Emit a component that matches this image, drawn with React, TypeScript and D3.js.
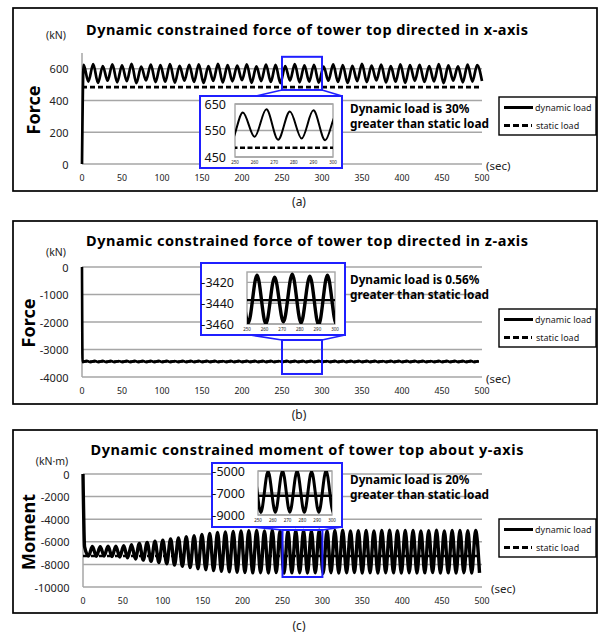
import React from 'react';
import * as d3 from 'd3';

const W = 603;
const H = 634;
const FONT = "'Noto Sans', 'Open Sans', sans-serif";
const GRID = '#a6a6a6';
const BLUE = '#1f1fff';

const timeTicks = [0, 50, 100, 150, 200, 250, 300, 350, 400, 450, 500];
const insetTimeTicks = [250, 260, 270, 280, 290, 300];
const zoomWindow = [250, 300];

// (a) force along x
const forceXTicks = [0, 200, 400, 600];
const forceXInsetTicks = [450, 550, 650];
const forceXStatic = 485;
const forceXFirst = 2;
const forceXHalf = 6;
const forceXPeaks = [
  625, 630, 618, 628, 622, 632, 615, 627, 624, 630,
  619, 626, 628, 617, 631, 623, 620, 629, 616, 627,
  625, 618, 630, 622, 626, 615, 628, 624, 619, 631,
  621, 627, 617, 629, 623, 626, 618, 630, 622, 616,
  627, 624,
];
const forceXTroughs = [
  520, 512, 525, 515, 522, 510, 527, 516, 519, 513,
  526, 518, 511, 524, 514, 521, 528, 512, 523, 517,
  510, 526, 515, 520, 513, 525, 518, 511, 522, 516,
  527, 514, 519, 512, 524, 517, 521, 510, 526, 515,
  520, 523,
];

// (b) force along z (starts on a trough)
const forceZTicks = [-4000, -3000, -2000, -1000, 0];
const forceZInsetTicks = [-3460, -3440, -3420];
const forceZStatic = -3437;
const forceZFirst = 0.7;
const forceZHalf = 5;
const forceZPeaks = [
  -3414, -3412, -3415, -3413, -3416, -3412, -3414, -3413, -3415, -3412,
  -3414, -3416, -3413, -3412, -3415, -3414, -3413, -3416, -3412, -3414,
  -3415, -3413, -3412, -3414, -3416, -3413, -3415, -3412, -3414, -3413,
  -3416, -3412, -3414, -3415, -3413, -3412, -3414, -3416, -3413, -3415,
  -3412, -3414, -3413, -3416, -3412, -3415, -3414, -3413, -3412, -3414,
];
const forceZTroughs = [
  -3459, -3460, -3458, -3461, -3459, -3458, -3460, -3459, -3461, -3458,
  -3459, -3460, -3458, -3459, -3461, -3460, -3458, -3459, -3460, -3461,
  -3458, -3459, -3460, -3458, -3461, -3459, -3460, -3458, -3459, -3461,
  -3460, -3458, -3459, -3460, -3461, -3458, -3459, -3460, -3458, -3459,
  -3461, -3460, -3458, -3459, -3460, -3458, -3461, -3459, -3460, -3458,
];

// (c) moment about y
const momentTicks = [-10000, -8000, -6000, -4000, -2000, 0];
const momentInsetTicks = [-9000, -7000, -5000];
const momentStatic = -7250;
const momentFirst = 2;
const momentHalf = 4.9;
const momentPeaks = [
  -6450, -6420, -6440, -6400, -6380, -6350, -6250, -6150, -6050, -5950,
  -5850, -5750, -5650, -5550, -5450, -5350, -5250, -5180, -5120, -5080,
  -5050, -5020, -5000, -5040, -4980, -5010, -5030, -4990, -5000, -5050,
  -4970, -5020, -5000, -4980, -5040, -5010, -4990, -5030, -5000, -4970,
  -5020, -5000, -4990, -5040, -5010, -4980, -5030, -5000, -4990, -5020,
  -5000,
];
const momentTroughs = [
  -7250, -7280, -7260, -7300, -7350, -7420, -7520, -7620, -7730, -7840,
  -7950, -8060, -8170, -8280, -8380, -8470, -8550, -8610, -8660, -8700,
  -8720, -8750, -8740, -8760, -8730, -8770, -8750, -8740, -8760, -8750,
  -8780, -8740, -8760, -8750, -8730, -8770, -8750, -8760, -8740, -8750,
  -8770, -8740, -8760, -8750, -8730, -8760, -8750, -8770, -8740, -8760,
  -8750,
];

// dynamic signal: starts from 0 at t=0, then alternating extrema
function buildSeries(first: number, half: number, odd: number[], even: number[]) {
  const pts: [number, number][] = [[0, 0]];
  const n = odd.length + even.length;
  for (let i = 0; i < n; i++) {
    const v = i % 2 === 0 ? odd[i / 2] : even[(i - 1) / 2];
    pts.push([first + i * half, v]);
  }
  return pts;
}

type Box = { left: number; right: number; top: number; bottom: number };

type PanelCfg = {
  id: string;
  frame: Box;
  plot: Box;
  yDomain: [number, number];
  yTicks: number[];
  title: string;
  titleY: number;
  titleW: number;
  unit: string;
  unitX: number;
  unitY: number;
  yLabel: string;
  yLabelX: number;
  yLabelY: number;
  secX: number;
  dynamic: [number, number][];
  staticVal: number;
  lineW: number;
  selY: [number, number];
  inset: {
    frame: Box;
    plot: Box;
    yDomain: [number, number];
    yTicks: number[];
    labelRight: number;
    lineW: number;
    staticSolid: boolean;
    connL: number;
    below: boolean;
  };
  note: string[];
  noteY: number;
  legendTop: number;
  caption: string;
  captionY: number;
};

const panels: PanelCfg[] = [
  {
    id: 'a',
    frame: { left: 13, right: 597, top: 8, bottom: 191 },
    plot: { left: 82, right: 482, top: 53, bottom: 164 },
    yDomain: [0, 700],
    yTicks: forceXTicks,
    title: 'Dynamic constrained force of tower top directed in x-axis',
    titleY: 35,
    titleW: 442,
    unit: '(kN)',
    unitX: 56,
    unitY: 39,
    yLabel: 'Force',
    yLabelX: 33,
    yLabelY: 110,
    secX: 486,
    dynamic: buildSeries(forceXFirst, forceXHalf, forceXPeaks, forceXTroughs),
    staticVal: forceXStatic,
    lineW: 2.7,
    selY: [467, 676],
    inset: {
      frame: { left: 200, right: 342, top: 96, bottom: 168 },
      plot: { left: 235, right: 333, top: 104, bottom: 157 },
      yDomain: [450, 650],
      yTicks: forceXInsetTicks,
      labelRight: 226,
      lineW: 2,
      staticSolid: false,
      connL: 256,
      below: true,
    },
    note: ['Dynamic load is 30%', 'greater than static load'],
    noteY: 113,
    legendTop: 97,
    caption: '(a)',
    captionY: 206,
  },
  {
    id: 'b',
    frame: { left: 13, right: 597, top: 221, bottom: 404 },
    plot: { left: 82, right: 482, top: 267, bottom: 377 },
    yDomain: [-4000, 0],
    yTicks: forceZTicks,
    title: 'Dynamic constrained force of tower top directed in z-axis',
    titleY: 246,
    titleW: 442,
    unit: '(kN)',
    unitX: 56,
    unitY: 256,
    yLabel: 'Force',
    yLabelX: 28,
    yLabelY: 323,
    secX: 486,
    dynamic: buildSeries(forceZFirst, forceZHalf, forceZTroughs, forceZPeaks),
    staticVal: forceZStatic,
    lineW: 2.6,
    selY: [-3890, -2655],
    inset: {
      frame: { left: 201, right: 345, top: 263, bottom: 335 },
      plot: { left: 247, right: 335, top: 272, bottom: 324 },
      yDomain: [-3460, -3410],
      yTicks: forceZInsetTicks,
      labelRight: 234,
      lineW: 3.4,
      staticSolid: true,
      connL: 250,
      below: false,
    },
    note: ['Dynamic load is 0.56%', 'greater than static load'],
    noteY: 284,
    legendTop: 309,
    caption: '(b)',
    captionY: 419,
  },
  {
    id: 'c',
    frame: { left: 13, right: 597, top: 430, bottom: 613 },
    plot: { left: 83, right: 482, top: 474, bottom: 587 },
    yDomain: [-10000, 0],
    yTicks: momentTicks,
    title: 'Dynamic constrained moment of tower top about y-axis',
    titleY: 455,
    titleW: 433,
    unit: '(kN·m)',
    unitX: 52,
    unitY: 465,
    yLabel: 'Moment',
    yLabelX: 28,
    yLabelY: 532,
    secX: 491,
    dynamic: buildSeries(momentFirst, momentHalf, momentPeaks, momentTroughs),
    staticVal: momentStatic,
    lineW: 3.4,
    selY: [-9115, -4956],
    inset: {
      frame: { left: 212, right: 342, top: 463, bottom: 527 },
      plot: { left: 258, right: 332, top: 471, bottom: 515 },
      yDomain: [-9000, -5000],
      yTicks: momentInsetTicks,
      labelRight: 245,
      lineW: 3,
      staticSolid: true,
      connL: 253,
      below: false,
    },
    note: ['Dynamic load is 20%', 'greater than static load'],
    noteY: 484,
    legendTop: 519,
    caption: '(c)',
    captionY: 630,
  },
];

function Panel({ cfg }: { cfg: PanelCfg }) {
  const { plot, inset } = cfg;
  const x = d3.scaleLinear().domain([0, 500]).range([plot.left, plot.right]);
  const y = d3.scaleLinear().domain(cfg.yDomain).range([plot.bottom, plot.top]);
  const line = d3
    .line<[number, number]>()
    .x((d) => x(d[0]))
    .y((d) => y(d[1]))
    .curve(d3.curveMonotoneX);

  const ix = d3.scaleLinear().domain(zoomWindow).range([inset.plot.left, inset.plot.right]);
  const iy = d3.scaleLinear().domain(inset.yDomain).range([inset.plot.bottom, inset.plot.top]);
  const iline = d3
    .line<[number, number]>()
    .x((d) => ix(d[0]))
    .y((d) => iy(d[1]))
    .curve(d3.curveMonotoneX);
  const insetData = cfg.dynamic.filter((d) => d[0] >= zoomWindow[0] - 12 && d[0] <= zoomWindow[1] + 12);

  const staticPts: [number, number][] = [
    [0, cfg.staticVal],
    [500, cfg.staticVal],
  ];

  const selX0 = x(zoomWindow[0]);
  const selX1 = x(zoomWindow[1]);
  const selTop = y(cfg.selY[1]);
  const selBot = y(cfg.selY[0]);

  const lg = { left: 499, right: 596, top: cfg.legendTop, bottom: cfg.legendTop + 38 };
  const clipMain = `clip-main-${cfg.id}`;
  const clipInset = `clip-inset-${cfg.id}`;

  return (
    <g>
      <defs>
        <clipPath id={clipMain}>
          <rect x={plot.left - 2} y={plot.top - 4} width={plot.right - plot.left + 4} height={plot.bottom - plot.top + 4} />
        </clipPath>
        <clipPath id={clipInset}>
          <rect
            x={inset.plot.left}
            y={inset.plot.top}
            width={inset.plot.right - inset.plot.left}
            height={inset.plot.bottom - inset.plot.top}
          />
        </clipPath>
      </defs>
      <rect
        x={cfg.frame.left}
        y={cfg.frame.top}
        width={cfg.frame.right - cfg.frame.left}
        height={cfg.frame.bottom - cfg.frame.top}
        fill="#fff"
        stroke="#000"
        strokeWidth={1.7}
      />
      <text
        x={307}
        y={cfg.titleY}
        textAnchor="middle"
        fontSize={14.5}
        fontWeight="bold"
        fontFamily={FONT}
        textLength={cfg.titleW}
        lengthAdjust="spacing"
      >
        {cfg.title}
      </text>
      <text x={cfg.unitX} y={cfg.unitY} textAnchor="middle" fontSize={10.5} fontFamily={FONT} fill="#222">
        {cfg.unit}
      </text>
      <text
        transform={`translate(${cfg.yLabelX},${cfg.yLabelY}) rotate(-90)`}
        textAnchor="middle"
        dominantBaseline="central"
        fontSize={18}
        fontWeight="bold"
        fontFamily={FONT}
      >
        {cfg.yLabel}
      </text>

      {/* grid + axes */}
      {cfg.yTicks.map((t) => (
        <line key={`g${t}`} x1={plot.left} x2={plot.right} y1={y(t)} y2={y(t)} stroke={GRID} strokeWidth={1.5} />
      ))}
      <line x1={plot.left} x2={plot.left} y1={plot.top} y2={plot.bottom} stroke={GRID} strokeWidth={1.5} />
      {cfg.yTicks.map((t) => (
        <text key={`yl${t}`} x={plot.left - 13.5} y={y(t)} textAnchor="end" dominantBaseline="central" fontSize={11} fontFamily={FONT} fill="#222">
          {t}
        </text>
      ))}
      {timeTicks.map((t) => (
        <text key={`xl${t}`} x={x(t)} y={plot.bottom + 17} textAnchor="middle" fontSize={8.8} fontFamily={FONT} fill="#222">
          {t}
        </text>
      ))}
      <text x={cfg.secX} y={plot.bottom + 1} dominantBaseline="central" fontSize={11.5} fontFamily={FONT} fill="#222">
        (sec)
      </text>

      {/* series */}
      <g clipPath={`url(#${clipMain})`}>
        <path d={line(cfg.dynamic) ?? ''} fill="none" stroke="#000" strokeWidth={cfg.lineW} strokeLinejoin="round" />
        <path d={line(staticPts) ?? ''} fill="none" stroke="#000" strokeWidth={2.6} strokeDasharray="5,3" />
      </g>

      {/* zoom marker */}
      <rect x={selX0} y={selTop} width={selX1 - selX0} height={selBot - selTop} fill="none" stroke={BLUE} strokeWidth={2} />
      {inset.below ? (
        <>
          <line x1={selX0} y1={selBot} x2={inset.connL} y2={inset.frame.top} stroke={BLUE} strokeWidth={1.6} />
          <line x1={selX1} y1={selBot} x2={inset.frame.right} y2={inset.frame.top} stroke={BLUE} strokeWidth={1.6} />
        </>
      ) : (
        <>
          <line x1={selX0} y1={selTop} x2={inset.connL} y2={inset.frame.bottom} stroke={BLUE} strokeWidth={1.6} />
          <line x1={selX1} y1={selTop} x2={inset.frame.right} y2={inset.frame.bottom} stroke={BLUE} strokeWidth={1.6} />
        </>
      )}

      {/* inset */}
      <rect
        x={inset.frame.left}
        y={inset.frame.top}
        width={inset.frame.right - inset.frame.left}
        height={inset.frame.bottom - inset.frame.top}
        fill="#fff"
        stroke={BLUE}
        strokeWidth={2}
      />
      <rect
        x={inset.plot.left}
        y={inset.plot.top}
        width={inset.plot.right - inset.plot.left}
        height={inset.plot.bottom - inset.plot.top}
        fill="#fff"
        stroke={GRID}
        strokeWidth={1.4}
      />
      {inset.yTicks.map((t) => (
        <line key={`ig${t}`} x1={inset.plot.left} x2={inset.plot.right} y1={iy(t)} y2={iy(t)} stroke={GRID} strokeWidth={1.4} />
      ))}
      {inset.yTicks.map((t) => (
        <text key={`iyl${t}`} x={inset.labelRight} y={iy(t)} textAnchor="end" dominantBaseline="central" fontSize={12.5} fontFamily={FONT} fill="#111">
          {t}
        </text>
      ))}
      {insetTimeTicks.map((t) => (
        <text key={`ixl${t}`} x={ix(t)} y={inset.plot.bottom + 7} textAnchor="middle" fontSize={4.5} fontFamily={FONT} fill="#222">
          {t}
        </text>
      ))}
      <g clipPath={`url(#${clipInset})`}>
        <path d={iline(insetData) ?? ''} fill="none" stroke="#000" strokeWidth={inset.lineW} />
        <path
          d={iline(staticPts) ?? ''}
          fill="none"
          stroke="#000"
          strokeWidth={2.4}
          strokeDasharray={inset.staticSolid ? undefined : '5,2.5'}
        />
      </g>

      {/* annotation */}
      {cfg.note.map((s, i) => (
        <text key={s} x={350} y={cfg.noteY + i * 15} fontSize={11.8} fontWeight="bold" fontFamily={FONT}>
          {s}
        </text>
      ))}

      {/* legend */}
      <rect x={lg.left} y={lg.top} width={lg.right - lg.left} height={lg.bottom - lg.top} fill="#fff" stroke="#000" strokeWidth={1.4} />
      <line x1={504} x2={533} y1={lg.top + 10.5} y2={lg.top + 10.5} stroke="#000" strokeWidth={3} />
      <text x={535} y={lg.top + 10.5} dominantBaseline="central" fontSize={9} fontFamily={FONT} fill="#222">
        dynamic load
      </text>
      <line x1={504} x2={532} y1={lg.top + 28.5} y2={lg.top + 28.5} stroke="#000" strokeWidth={3} strokeDasharray="6,3" />
      <text x={536} y={lg.top + 28.5} dominantBaseline="central" fontSize={9} fontFamily={FONT} fill="#222">
        static load
      </text>

      <text x={299} y={cfg.captionY} textAnchor="middle" fontSize={12} fontFamily={FONT} fill="#222">
        {cfg.caption}
      </text>
    </g>
  );
}

export default function App() {
  return (
    <svg
      width={W}
      height={H}
      viewBox={`0 0 ${W} ${H}`}
      style={{ position: 'absolute', left: 0, top: 0, background: '#fff' }}
    >
      <rect width={W} height={H} fill="#fff" />
      {panels.map((p) => (
        <Panel key={p.id} cfg={p} />
      ))}
    </svg>
  );
}
